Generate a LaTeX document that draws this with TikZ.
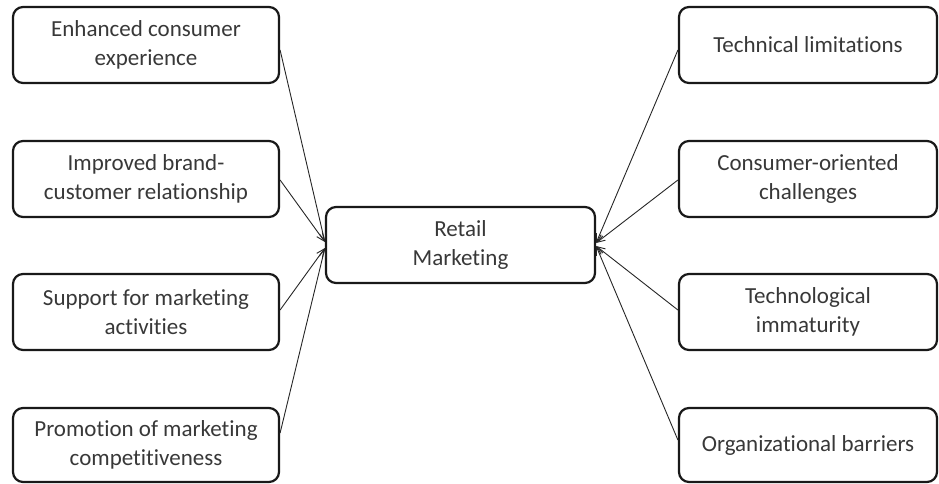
\documentclass[tikz,border=0pt]{standalone}
\usepackage{fontspec}
\setmainfont{Carlito}[Ligatures={NoCommon}]
\usetikzlibrary{arrows.meta}
\begin{document}
\begin{tikzpicture}[x=1pt,y=-1pt,
  box/.style={draw=black!90, line width=2.2pt, rounded corners=10pt, align=center,
    text=black!78, font=\fontsize{23}{29}\selectfont, inner sep=0pt},
  lbox/.style={box, minimum width=266pt, minimum height=76pt},
  rbox/.style={box, minimum width=258pt, minimum height=76pt},
  arr/.style={line width=0.9pt, draw=black!85, -{Straight Barb[length=8pt,width=7pt]}}]
\useasboundingbox (0,0) rectangle (939,483);
\node[lbox] (l1) at (146,45) {Enhanced consumer\\experience};
\node[lbox] (l2) at (146,179) {Improved brand-\\customer relationship};
\node[lbox] (l3) at (146,312) {Support for marketing\\activities};
\node[lbox, minimum height=74pt] (l4) at (146,445) {Promotion of marketing\\competitiveness};
\node[rbox] (r1) at (808,45) {Technical limitations};
\node[rbox] (r2) at (808,179) {Consumer-oriented\\challenges};
\node[rbox] (r3) at (808,312) {Technological\\immaturity};
\node[rbox, minimum height=74pt] (r4) at (808,445) {Organizational barriers};
\node[box, minimum width=269pt, minimum height=76pt] (c) at (460.5,245) {Retail\\Marketing};
\draw[arr] ([yshift=-5pt]l1.east) -- ([yshift=3pt]c.west);
\draw[arr] ([yshift=-1pt]l2.east) -- ([yshift=3pt]c.west);
\draw[arr] ([yshift=2pt]l3.east) -- ([yshift=-3pt]c.west);
\draw[arr] ([yshift=12pt]l4.east) -- ([yshift=-3pt]c.west);
\draw[arr] ([yshift=-5pt]r1.west) -- ([yshift=2pt]c.east);
\draw[arr] ([yshift=-1pt]r2.west) -- ([yshift=2pt]c.east);
\draw[arr] ([yshift=2pt]r3.west) -- ([yshift=-1pt]c.east);
\draw[arr] ([yshift=5pt]r4.west) -- ([yshift=-1pt]c.east);
\end{tikzpicture}
\end{document}
